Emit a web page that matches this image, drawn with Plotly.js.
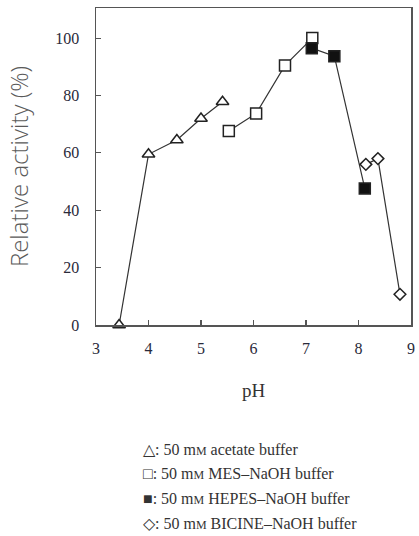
<!DOCTYPE html>
<html><head><meta charset="utf-8">
<script src="https://cdn.plot.ly/plotly-3.0.1.min.js"></script>
<style>html,body{margin:0;padding:0;background:#fff;}#chart{width:419px;height:536px;}</style>
</head><body><div id="chart"></div>
<script>
const acetatePH = [3.44, 4.0, 4.54, 5.0, 5.41];
const acetateAct = [0, 59.5, 64.5, 72, 77.8];
const mesPH = [5.53, 6.05, 6.6, 7.12];
const mesAct = [67.6, 73.7, 90.5, 100];
const hepesPH = [7.11, 7.54, 8.12];
const hepesAct = [96.5, 93.7, 47.6];
const bicinePH = [8.14, 8.37, 8.79];
const bicineAct = [56, 58, 10.7];
const xTicks = [3, 4, 5, 6, 7, 8, 9];
const yTicks = [0, 20, 40, 60, 80, 100];
const legendLabels = [
  "△: 50 m<span style='font-size:12px'>M</span> acetate buffer",
  "□: 50 m<span style='font-size:12px'>M</span> MES–NaOH buffer",
  "■: 50 m<span style='font-size:12px'>M</span> HEPES–NaOH buffer",
  "◇: 50 m<span style='font-size:12px'>M</span> BICINE–NaOH buffer"
];

const serif = '"Liberation Serif", "Times New Roman", serif';
const lineStyle = {color: '#333', width: 1.2};
function tr(x, y, symbol, size, fill) {
  return {x: x, y: y, mode: 'lines+markers', type: 'scatter', cliponaxis: false,
    line: lineStyle,
    marker: {symbol: symbol, size: size, color: fill, line: {color: '#222', width: 1.5}}};
}
const data = [
  tr(acetatePH, acetateAct, 'triangle-up', 11, '#fff'),
  tr(mesPH, mesAct, 'square', 11, '#fff'),
  tr(hepesPH, hepesAct, 'square', 11, '#111'),
  tr(bicinePH, bicineAct, 'diamond', 9, '#fff')
];
const tickFont = {family: serif, size: 16, color: '#2a2a3a'};
const annotations = legendLabels.map((t, i) => ({
  text: t, xref: 'paper', yref: 'paper', x: (141 - 96) / 315, y: -(449 + i * 24.7 - 325) / 317,
  xanchor: 'left', yanchor: 'middle', showarrow: false,
  font: {family: serif, size: 16, color: '#333'}
}));
const layout = {
  width: 419, height: 536,
  margin: {l: 96, r: 8, t: 8, b: 211},
  paper_bgcolor: '#fff', plot_bgcolor: '#fff',
  showlegend: false,
  xaxis: {range: [3, 9], tickvals: xTicks, ticks: 'inside', ticklen: 5, tickcolor: '#555', tickwidth: 1.2,
    showline: true, linecolor: '#555', linewidth: 1.5, mirror: true, showgrid: false, zeroline: false,
    tickfont: tickFont, ticklabelstandoff: 8,
    title: {text: 'pH', font: {family: serif, size: 19, color: '#333'}, standoff: 28}},
  yaxis: {range: [0, 110.5], tickvals: yTicks, ticks: 'inside', ticklen: 5, tickcolor: '#555', tickwidth: 1.2,
    showline: true, linecolor: '#555', linewidth: 1.5, mirror: true, showgrid: false, zeroline: false,
    tickfont: tickFont, ticklabelstandoff: 12,
    title: {text: 'Relative activity (%)', font: {family: '"Open Sans", sans-serif', size: 24, color: '#5a5a5a', weight: 300}, standoff: 20}},
  annotations: annotations
};
Plotly.newPlot('chart', data, layout, {displayModeBar: false, staticPlot: true});
</script></body></html>
